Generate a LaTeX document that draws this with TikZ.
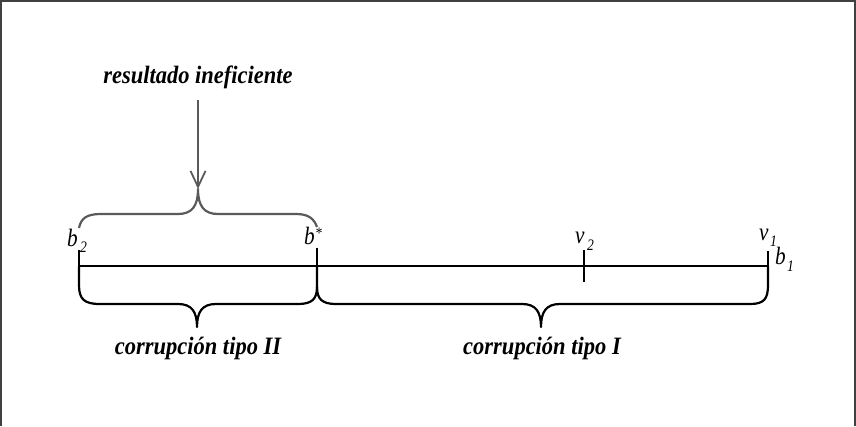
\documentclass[tikz,border=0pt]{standalone}
\usepackage{fontspec}
\setmainfont{Liberation Serif}
\usetikzlibrary{arrows.meta}
\definecolor{bracegray}{HTML}{5A5A5A}
\newcommand{\capt}[1]{\scalebox{0.9}[1]{\fontsize{25}{28}\selectfont\bfseries\itshape #1}}
\newcommand{\lettr}[1]{\scalebox{0.85}[1]{\fontsize{25}{28}\selectfont\itshape #1}}
\newcommand{\subsc}[1]{\scalebox{0.85}[1]{\fontsize{16}{18}\selectfont\itshape #1}}
\tikzset{
  frame/.style={draw=black!75, line width=1.2pt},
  axis/.style={draw=black, line width=2.5pt},
  lowbrace/.style={draw=black, line width=2.2pt, line join=round},
  upbrace/.style={draw=bracegray, line width=2.2pt, line join=round},
  pointer/.style={draw=bracegray, line width=2pt, -{Straight Barb[length=16pt,width=15pt,line width=1.8pt]}},
  caption/.style={inner sep=0pt, anchor=base},
  lbl/.style={inner sep=0pt, anchor=base west}
}
\begin{document}
\begin{tikzpicture}[x=1pt,y=-1pt]
\useasboundingbox (0,0) rectangle (856,426);
\draw[frame] (1,426) -- (1,1) -- (855,1) -- (855,426);

% points on the axis
\coordinate (b2) at (79,266);
\coordinate (bs) at (317,266);
\coordinate (v2) at (584,266);
\coordinate (b1) at (768,266);

\draw[axis] (b2) -- (b1);
\draw[axis] (79,250) -- (b2);
\draw[axis] (317,248) -- (bs);
\draw[axis] (584,250) -- (584,282);
\draw[axis] (768,251) -- (b1);

% lower braces
\draw[lowbrace] (79,266) -- (79,285) .. controls (79,299) and (84,304) .. (100,304) -- (178,304) .. controls (192,304) and (197,312) .. (197,327) .. controls (197,312) and (202,304) .. (216,304) -- (298,304) .. controls (312,304) and (317,299) .. (317,287) -- (317,266);
\draw[lowbrace] (317,287) .. controls (317,299) and (322,304) .. (336,304) -- (522,304) .. controls (536,304) and (541,312) .. (541,327) .. controls (541,312) and (546,304) .. (560,304) -- (750,304) .. controls (764,304) and (768,299) .. (768,285) -- (768,266);

% upper brace
\coordinate (tip) at (198,189);
\draw[upbrace] (79,228) .. controls (81,218) and (87,214) .. (101,214) -- (178,214) .. controls (192,214) and (198,206) .. (tip) .. controls (198,206) and (204,214) .. (218,214) -- (296,214) .. controls (309,214) and (314,219) .. (317,227);

% captions
\node[caption] (res) at (198,83) {\capt{resultado ineficiente}};
\coordinate (arrtop) at (198,100);
\draw[pointer] (arrtop) -- (tip);

\node[caption] (c2) at (198,354) {\capt{corrupción tipo II}};
\node[caption] (c1) at (542,354) {\capt{corrupción tipo I}};

% labels
\node[lbl] (lb2) at (67,246) {\lettr{b}};
\node[lbl] (lb2s) at (80,252) {\subsc{2}};
\node[lbl] (lbs) at (304,244) {\lettr{b}};
\node[lbl] (lbss) at (315,238) {\subsc{*}};
\node[lbl] (lv2) at (575,243) {\lettr{v}};
\node[lbl] (lv2s) at (587,250) {\subsc{2}};
\node[lbl] (lv1) at (759,240) {\lettr{v}};
\node[lbl] (lv1s) at (770,246) {\subsc{1}};
\node[lbl] (lb1) at (775,264) {\lettr{b}};
\node[lbl] (lb1s) at (787,271) {\subsc{1}};
\end{tikzpicture}
\end{document}
